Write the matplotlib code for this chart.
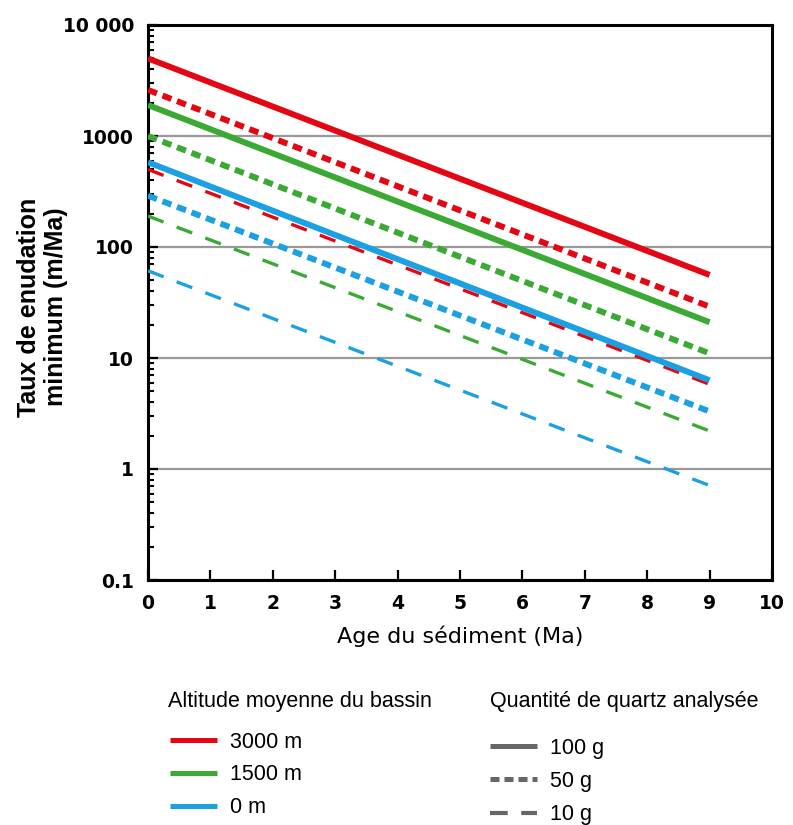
import matplotlib
matplotlib.use("Agg")
import matplotlib.pyplot as plt
from matplotlib.lines import Line2D
from matplotlib.ticker import LogLocator, NullFormatter

# Data: endpoints of each line (age 0 and 9 Ma), values in m/Ma
ages = [0, 9]
red_100g = [5000, 56]
red_50g = [2600, 29]
red_10g = [500, 5.8]
green_100g = [1900, 21]
green_50g = [1000, 11]
green_10g = [190, 2.2]
blue_100g = [580, 6.3]
blue_50g = [290, 3.3]
blue_10g = [61, 0.71]

ytick_vals = [0.1, 1, 10, 100, 1000, 10000]
ytick_labels = ["0.1", "1", "10", "100", "1000", "10 000"]
xtick_vals = list(range(0, 11))

alt_labels = ["3000 m", "1500 m", "0 m"]
q_labels = ["100 g", "50 g", "10 g"]

RED = "#E30613"
GREEN = "#3AAA35"
BLUE = "#1BA1E2"
GRAY = "#666666"

SOLID_LW = 4.3
DOT_LW = 4.3
DASH_LW = 2.4
DOT_STYLE = (0, (1.6, 1.0))
DASH_STYLE = (0, (5.0, 4.2))

fig = plt.figure(figsize=(7.93, 8.25), dpi=100)
ax = fig.add_axes([148/793, 1-580/825, (772-148)/793, (580-25)/825])

series = [
    (red_100g, RED, "-"), (red_50g, RED, ":"), (red_10g, RED, "--"),
    (green_100g, GREEN, "-"), (green_50g, GREEN, ":"), (green_10g, GREEN, "--"),
    (blue_100g, BLUE, "-"), (blue_50g, BLUE, ":"), (blue_10g, BLUE, "--"),
]
for vals, col, kind in series:
    if kind == "-":
        ax.plot(ages, vals, color=col, lw=SOLID_LW, solid_capstyle="butt", zorder=3)
    elif kind == ":":
        ax.plot(ages, vals, color=col, lw=DOT_LW, linestyle=DOT_STYLE, dash_capstyle="butt", zorder=3)
    else:
        ax.plot(ages, vals, color=col, lw=DASH_LW, linestyle=DASH_STYLE, dash_capstyle="butt", zorder=3)

ax.set_yscale("log")
ax.set_ylim(0.1, 10000)
ax.set_xlim(0, 10)
ax.set_yticks(ytick_vals)
ax.set_yticklabels(ytick_labels)
ax.yaxis.set_minor_locator(LogLocator(base=10, subs=range(2, 10), numticks=20))
ax.yaxis.set_minor_formatter(NullFormatter())
ax.set_xticks(xtick_vals)
ax.set_xticklabels([str(v) for v in xtick_vals])

for s in ax.spines.values():
    s.set_linewidth(2.2)
    s.set_color("black")

ax.tick_params(axis="both", which="major", direction="in", length=7, width=1.6, colors="black",
               labelsize=13.5, pad=10)
ax.tick_params(axis="y", which="minor", direction="in", length=4.5, width=1.5, colors="black")
for lab in ax.get_xticklabels() + ax.get_yticklabels():
    lab.set_fontfamily("DejaVu Sans")
    lab.set_fontweight("bold")

ax.grid(True, which="major", axis="y", color="#999999", lw=1.6, zorder=1)
ax.set_axisbelow(True)

ax.set_xlabel("Age du sédiment (Ma)", fontsize=16, family="DejaVu Sans")
ax.xaxis.label.set_va("center")
ax.xaxis.set_label_coords(0.5, (580-636)/555)
ax.set_ylabel("Taux de enudation\nminimum (m/Ma)", fontsize=18, family="Liberation Sans",
              fontweight="bold", linespacing=1.2)
ax.yaxis.label.set_va("center")
ax.yaxis.set_label_coords((42.5-148)/624, 0.5 - 4.5/555)

# Legends
fig.text(168/793, 1-702/825, "Altitude moyenne du bassin", family="Liberation Sans",
         fontsize=15.5, va="center", ha="left")
fig.text(490/793, 1-702/825, "Quantité de quartz analysée", family="Liberation Sans",
         fontsize=15.5, va="center", ha="left")

alt_handles = [Line2D([], [], color=RED, lw=3.6, solid_capstyle="butt"),
               Line2D([], [], color=GREEN, lw=3.6, solid_capstyle="butt"),
               Line2D([], [], color=BLUE, lw=3.6, solid_capstyle="butt")]
q_handles = [Line2D([], [], color=GRAY, lw=3.6, solid_capstyle="butt"),
             Line2D([], [], color=GRAY, lw=3.6, linestyle=(0, (1.8, 1.0)), dash_capstyle="butt"),
             Line2D([], [], color=GRAY, lw=3.0, linestyle=(0, (4.25, 3.25)), dash_capstyle="butt")]

leg_kw = dict(frameon=False, loc="center left",
              handlelength=2.18, handletextpad=0.6,
              borderpad=0, borderaxespad=0,
              prop={"family": "Liberation Sans", "size": 15.5})
fig.legend(alt_handles, alt_labels, bbox_to_anchor=(170/793, 1-775/825),
           labelspacing=0.54, **leg_kw)
fig.legend(q_handles, q_labels, bbox_to_anchor=(490/793, 1-781.5/825),
           labelspacing=0.58, **leg_kw)

fig.savefig("out.png", dpi=100)
